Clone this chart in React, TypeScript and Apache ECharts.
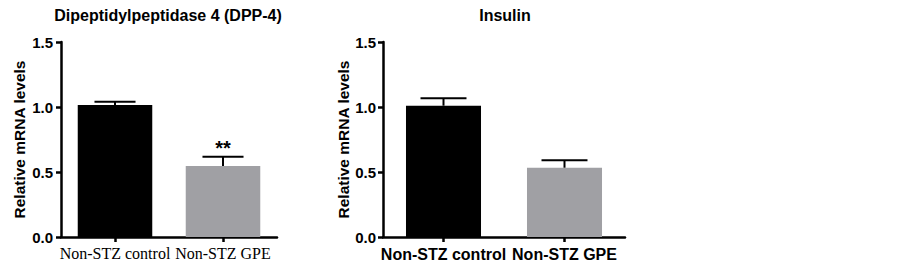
import React, { useEffect, useRef } from "react";
import * as echarts from "echarts";

const categories = ["Non-STZ control", "Non-STZ GPE"];
const dppMeans = [1.015, 0.546];
const dppErrors = [0.025, 0.072];
const dppSignificance = ["", "**"];
const insulinMeans = [1.01, 0.533];
const insulinErrors = [0.057, 0.057];
const insulinSignificance = ["", ""];
const barColors = ["#000000", "#a0a0a4"];
const yMin = 0;
const yMax = 1.5;
const yInterval = 0.5;

const sans = "'Liberation Sans', Arial, Helvetica, sans-serif";
const serif = "'Liberation Serif', 'Times New Roman', serif";

function errorRenderer(sig: string[]) {
  return (params: any, api: any) => {
    const x = api.value(0);
    const mean = api.value(1);
    const err = api.value(2);
    const base = api.coord([x, mean]);
    const top = api.coord([x, mean + err]);
    const half = api.size([1, 0])[0] * 0.19;
    const children: any[] = [
      {
        type: "line",
        shape: { x1: base[0], y1: base[1], x2: top[0], y2: top[1] },
        style: { stroke: "#000", lineWidth: 2 },
      },
      {
        type: "line",
        shape: { x1: top[0] - half, y1: top[1], x2: top[0] + half, y2: top[1] },
        style: { stroke: "#000", lineWidth: 2 },
      },
    ];
    const s = sig[params.dataIndex];
    if (s) {
      children.push({
        type: "text",
        x: top[0],
        y: top[1] - 9,
        style: {
          text: s,
          fill: "#000",
          font: `bold 20px ${sans}`,
          align: "center",
          verticalAlign: "middle",
        },
      });
    }
    return { type: "group", children };
  };
}

function yAxisCfg(gridIndex: number, nameGap: number, labelMargin: number) {
  return {
    type: "value",
    gridIndex,
    min: yMin,
    max: yMax,
    interval: yInterval,
    name: "Relative mRNA levels",
    nameLocation: "middle",
    nameGap,
    nameTextStyle: { fontFamily: sans, fontWeight: "bold", fontSize: 15.5, color: "#000" },
    axisLine: { show: true, lineStyle: { color: "#000", width: 2.5 } },
    axisTick: { show: true, length: 5, lineStyle: { color: "#000", width: 2.5 } },
    axisLabel: {
      margin: labelMargin,
      fontFamily: sans,
      fontWeight: "bold",
      fontSize: 15,
      color: "#000",
      formatter: (v: number) => v.toFixed(1),
    },
    splitLine: { show: false },
  };
}

function xAxisCfg(gridIndex: number, font: string, weight: string, size: number, margin: number) {
  return {
    type: "category",
    gridIndex,
    data: categories,
    axisLine: { show: true, onZero: false, lineStyle: { color: "#000", width: 2.5 } },
    axisTick: { show: true, alignWithLabel: true, length: 5, lineStyle: { color: "#000", width: 2.5 } },
    axisLabel: {
      interval: 0,
      margin,
      fontFamily: font,
      fontWeight: weight,
      fontSize: size,
      color: "#000",
    },
    splitLine: { show: false },
  };
}

export default function App() {
  const ref = useRef<HTMLDivElement>(null);
  useEffect(() => {
    if (!ref.current) return;
    const chart = echarts.init(ref.current, undefined, { renderer: "svg" });
    chart.setOption({
      animation: false,
      backgroundColor: "#fff",
      title: [
        {
          text: "Dipeptidylpeptidase 4 (DPP-4)",
          left: 163,
          top: 2,
          textAlign: "center",
          textStyle: { fontFamily: sans, fontWeight: "bold", fontSize: 16, color: "#000" },
        },
        {
          text: "Insulin",
          left: 500,
          top: 2,
          textAlign: "center",
          textStyle: { fontFamily: sans, fontWeight: "bold", fontSize: 16, color: "#000" },
        },
      ],
      grid: [
        { left: 61, top: 42, width: 216, height: 195 },
        { left: 383, top: 42, width: 242, height: 195 },
      ],
      xAxis: [
        xAxisCfg(0, serif, "normal", 16, 8),
        xAxisCfg(1, sans, "bold", 16, 9),
      ],
      yAxis: [yAxisCfg(0, 34, 8), yAxisCfg(1, 31, 7)],
      series: [
        {
          type: "bar",
          xAxisIndex: 0,
          yAxisIndex: 0,
          barWidth: "69%",
          data: dppMeans.map((v, i) => ({ value: v, itemStyle: { color: barColors[i] } })),
        },
        {
          type: "custom",
          xAxisIndex: 0,
          yAxisIndex: 0,
          renderItem: errorRenderer(dppSignificance),
          data: dppMeans.map((v, i) => [i, v, dppErrors[i]]),
          z: 3,
        },
        {
          type: "bar",
          xAxisIndex: 1,
          yAxisIndex: 1,
          barWidth: "62%",
          data: insulinMeans.map((v, i) => ({ value: v, itemStyle: { color: barColors[i] } })),
        },
        {
          type: "custom",
          xAxisIndex: 1,
          yAxisIndex: 1,
          renderItem: errorRenderer(insulinSignificance),
          data: insulinMeans.map((v, i) => [i, v, insulinErrors[i]]),
          z: 3,
        },
      ],
    });
    return () => chart.dispose();
  }, []);
  return (
    <div
      ref={ref}
      style={{ position: "absolute", left: 0, top: 0, width: 903, height: 266 }}
    />
  );
}
